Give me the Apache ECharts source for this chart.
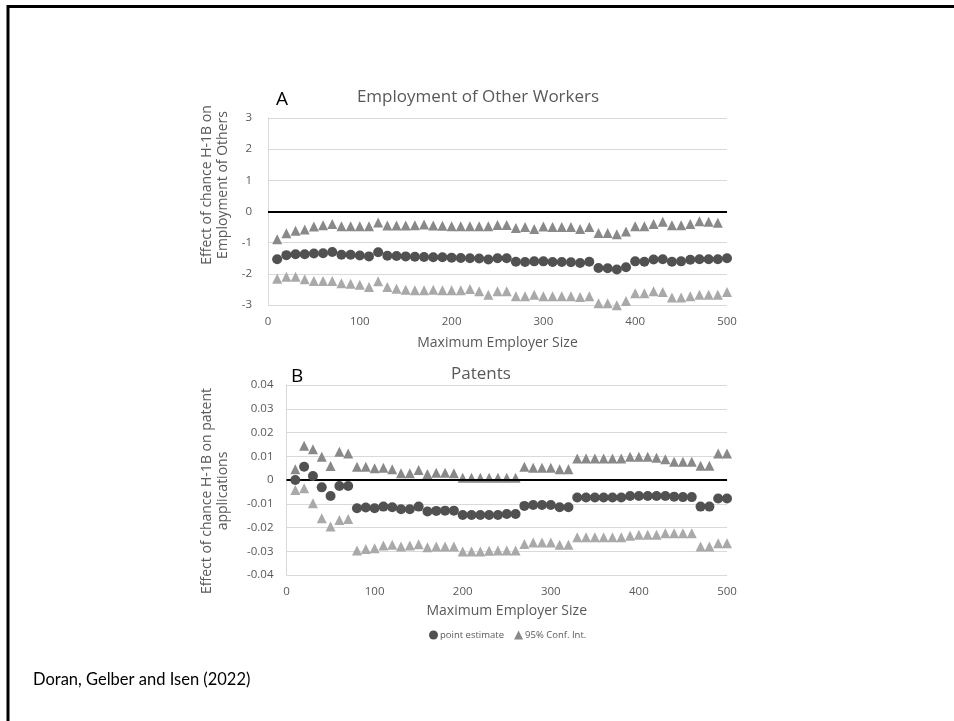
<!DOCTYPE html>
<html><head><meta charset="utf-8">
<script src="https://cdn.jsdelivr.net/npm/echarts@6/dist/echarts.min.js"></script>
<style>html,body{margin:0;padding:0;background:#fff}#c{width:954px;height:721px}</style>
</head><body><div id="c"></div>
<script>
// Maximum employer size (x values)
const sizes = [10,20,30,40,50,60,70,80,90,100,110,120,130,140,150,160,170,180,190,200,
  210,220,230,240,250,260,270,280,290,300,310,320,330,340,350,360,370,380,390,400,
  410,420,430,440,450,460,470,480,490,500];

// Panel A: Employment of Other Workers
const empPoint = [-1.53,-1.40,-1.37,-1.37,-1.35,-1.34,-1.30,-1.39,-1.39,-1.41,-1.44,-1.31,-1.42,-1.43,-1.44,-1.45,-1.46,-1.47,-1.47,-1.48,
  -1.49,-1.50,-1.51,-1.54,-1.50,-1.50,-1.61,-1.62,-1.60,-1.60,-1.62,-1.62,-1.63,-1.65,-1.61,-1.81,-1.82,-1.86,-1.79,-1.60,
  -1.61,-1.54,-1.53,-1.61,-1.60,-1.55,-1.53,-1.53,-1.53,-1.50];
const empUpper = [-0.89,-0.70,-0.62,-0.58,-0.48,-0.44,-0.40,-0.47,-0.47,-0.47,-0.47,-0.35,-0.45,-0.45,-0.45,-0.44,-0.42,-0.45,-0.46,-0.47,
  -0.47,-0.47,-0.47,-0.47,-0.43,-0.43,-0.53,-0.50,-0.56,-0.48,-0.50,-0.50,-0.50,-0.56,-0.50,-0.69,-0.69,-0.73,-0.64,-0.47,
  -0.47,-0.40,-0.33,-0.44,-0.44,-0.40,-0.31,-0.33,-0.36,null];
const empLower = [-2.16,-2.09,-2.09,-2.17,-2.23,-2.23,-2.23,-2.30,-2.32,-2.35,-2.42,-2.24,-2.42,-2.48,-2.51,-2.53,-2.53,-2.51,-2.53,-2.53,
  -2.53,-2.49,-2.56,-2.67,-2.56,-2.56,-2.72,-2.72,-2.67,-2.72,-2.72,-2.72,-2.72,-2.74,-2.72,-2.94,-2.94,-3.01,-2.87,-2.62,
  -2.62,-2.56,-2.58,-2.76,-2.76,-2.72,-2.67,-2.67,-2.67,-2.58];

// Panel B: Patents
const patPoint = [0.0000,0.0056,0.0017,-0.0031,-0.0067,-0.0025,-0.0025,-0.0119,-0.0116,-0.0119,-0.0112,-0.0115,-0.0123,-0.0123,-0.0112,-0.0133,-0.0130,-0.0129,-0.0129,-0.0147,
  -0.0147,-0.0147,-0.0147,-0.0147,-0.0143,-0.0143,-0.0109,-0.0105,-0.0105,-0.0105,-0.0115,-0.0115,-0.0074,-0.0074,-0.0074,-0.0074,-0.0074,-0.0074,-0.0067,-0.0067,
  -0.0067,-0.0067,-0.0067,-0.0070,-0.0072,-0.0072,-0.0112,-0.0112,-0.0078,-0.0078];
const patUpper = [0.0045,0.0144,0.0129,0.0098,0.0059,0.0119,0.0112,0.0056,0.0056,0.0049,0.0052,0.0045,0.0028,0.0028,0.0042,0.0025,0.0031,0.0031,0.0028,0.0010,
  0.0010,0.0010,0.0010,0.0010,0.0010,0.0010,0.0056,0.0052,0.0052,0.0052,0.0045,0.0045,0.0091,0.0091,0.0091,0.0091,0.0091,0.0091,0.0098,0.0098,
  0.0098,0.0094,0.0087,0.0077,0.0077,0.0077,0.0060,0.0060,0.0112,0.0112];
const patLower = [-0.0042,-0.0035,-0.0098,-0.0161,-0.0196,-0.0168,-0.0164,-0.0297,-0.0290,-0.0287,-0.0276,-0.0273,-0.0280,-0.0276,-0.0270,-0.0283,-0.0280,-0.0280,-0.0280,-0.0301,
  -0.0301,-0.0301,-0.0298,-0.0297,-0.0297,-0.0297,-0.0269,-0.0263,-0.0263,-0.0263,-0.0273,-0.0273,-0.0241,-0.0241,-0.0241,-0.0241,-0.0241,-0.0241,-0.0235,-0.0231,
  -0.0231,-0.0231,-0.0224,-0.0224,-0.0224,-0.0224,-0.0280,-0.0280,-0.0266,-0.0266];

const xTicksMax = 500;
const empTicks = {min:-3, max:3, step:1};
const patTicks = {min:-0.04, max:0.04, step:0.01};

const FONT = "'Open Sans', 'Noto Sans', sans-serif";
const C_PT = '#515151', C_UP = '#898989', C_LO = '#a9a9a9';
const pairs = ys => sizes.map((x,i) => ys[i] == null ? [x, '-'] : [x, ys[i]]);

const chart = echarts.init(document.getElementById('c'), null, {renderer:'canvas'});

const xAxisCommon = {
  type:'value', min:0, max:xTicksMax, interval:100,
  axisLine:{show:true, lineStyle:{color:'#d9d9d9', width:1}},
  axisTick:{show:false}, splitLine:{show:false},
  axisLabel:{color:'#595959', fontSize:11.5, fontFamily:FONT, margin:11},
  name:'Maximum Employer Size', nameLocation:'middle',
  nameTextStyle:{color:'#595959', fontSize:14, fontFamily:FONT}
};
const yAxisCommon = {
  type:'value',
  axisLine:{show:true, lineStyle:{color:'#d9d9d9', width:1}},
  axisTick:{show:false},
  splitLine:{show:true, lineStyle:{color:'#d9d9d9', width:1}},
  axisLabel:{color:'#595959', fontSize:11.5, fontFamily:FONT, margin:16}
};
const zeroLine = {symbol:'none', silent:true, label:{show:false},
  lineStyle:{color:'#000', width:2, type:'solid'}, data:[{yAxis:0}]};

function sc(name, data, xi, sym, color, size, z, mark) {
  const s = {name, type:'scatter', xAxisIndex:xi, yAxisIndex:xi, data:pairs(data), clip:false,
    symbol:sym, symbolSize:size, itemStyle:{color, opacity:1}, z, silent:true};
  if (mark) s.markLine = zeroLine;
  return s;
}

chart.setOption({
  animation:false,
  backgroundColor:'#fff',
  textStyle:{fontFamily:FONT},
  title:[
    {text:'A', left:276, top:90, padding:0, textStyle:{fontSize:19, fontWeight:'normal', color:'#000', fontFamily:FONT}},
    {text:'Employment of Other Workers', left:478, textAlign:'center', top:89, padding:0, textStyle:{fontSize:17, fontWeight:'normal', color:'#595959', fontFamily:FONT}},
    {text:'B', left:291, top:367, padding:0, textStyle:{fontSize:19, fontWeight:'normal', color:'#000', fontFamily:FONT}},
    {text:'Patents', left:481, textAlign:'center', top:366, padding:0, textStyle:{fontSize:17, fontWeight:'normal', color:'#595959', fontFamily:FONT}}
  ],
  grid:[
    {left:268, top:118, width:459, height:187},
    {left:286.5, top:385, width:440.5, height:190}
  ],
  xAxis:[
    Object.assign({}, xAxisCommon, {gridIndex:0, nameGap:31}),
    Object.assign({}, xAxisCommon, {gridIndex:1, nameGap:29})
  ],
  yAxis:[
    Object.assign({}, yAxisCommon, {gridIndex:0, min:empTicks.min, max:empTicks.max, interval:empTicks.step}),
    Object.assign({}, yAxisCommon, {gridIndex:1, min:patTicks.min, max:patTicks.max, interval:patTicks.step,
      axisLabel:Object.assign({}, yAxisCommon.axisLabel, {margin:13, formatter: v => (Math.round(v*100)/100).toString()})})
  ],
  legend:{
    left:424, top:625, itemWidth:9, itemHeight:9, itemGap:10,
    textStyle:{color:'#595959', fontSize:9.5, fontFamily:FONT, padding:[0,0,0,-3]},
    data:[{name:'point estimate', icon:'circle', itemStyle:{color:C_PT}},
          {name:'95% Conf. Int.', icon:'triangle', itemStyle:{color:C_UP}}],
    selectedMode:false
  },
  series:[
    sc('point estimate', empPoint, 0, 'circle', C_PT, 10, 5, true),
    sc('95% Conf. Int.', empUpper, 0, 'triangle', C_UP, 10, 4),
    sc('95% Conf. Int.', empLower, 0, 'triangle', C_LO, 10, 4),
    sc('point estimate', patPoint, 1, 'circle', C_PT, 10, 5, true),
    sc('95% Conf. Int.', patUpper, 1, 'triangle', C_UP, 10, 4),
    sc('95% Conf. Int.', patLower, 1, 'triangle', C_LO, 10, 4)
  ],
  graphic:[
    {type:'line', shape:{x1:7, y1:6.5, x2:954, y2:6.5}, style:{stroke:'#000', lineWidth:3}, silent:true},
    {type:'line', shape:{x1:8, y1:5, x2:8, y2:721}, style:{stroke:'#000', lineWidth:3}, silent:true},
    {type:'text', x:207, y:185, rotation:Math.PI/2, silent:true,
      style:{text:'Effect of chance H-1B on', textAlign:'center', textVerticalAlign:'middle', fill:'#595959', fontSize:14, fontFamily:FONT}},
    {type:'text', x:223, y:185, rotation:Math.PI/2, silent:true,
      style:{text:'Employment of Others', textAlign:'center', textVerticalAlign:'middle', fill:'#595959', fontSize:14, fontFamily:FONT}},
    {type:'text', x:207, y:491, rotation:Math.PI/2, silent:true,
      style:{text:'Effect of chance H-1B on patent', textAlign:'center', textVerticalAlign:'middle', fill:'#595959', fontSize:14, fontFamily:FONT}},
    {type:'text', x:223, y:491, rotation:Math.PI/2, silent:true,
      style:{text:'applications', textAlign:'center', textVerticalAlign:'middle', fill:'#595959', fontSize:14, fontFamily:FONT}},
    {type:'text', x:33, y:680, silent:true,
      style:{text:'Doran, Gelber and Isen (2022)', textAlign:'left', textVerticalAlign:'middle', fill:'#000', fontSize:16.5, fontFamily:"Lato, 'Open Sans', sans-serif"}}
  ]
});
</script></body></html>
